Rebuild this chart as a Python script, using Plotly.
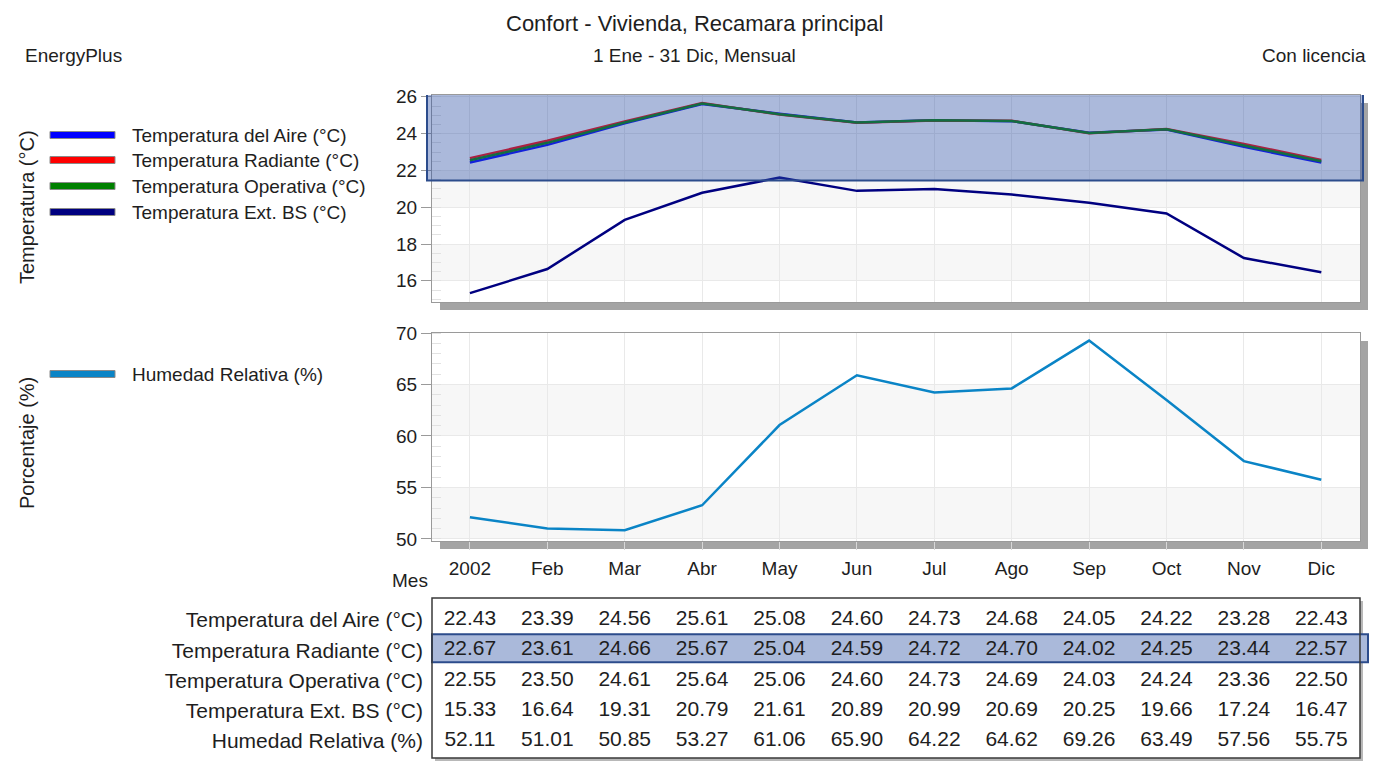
import plotly.graph_objects as go

W, H = 1373, 762

months = ["2002", "Feb", "Mar", "Abr", "May", "Jun", "Jul", "Ago", "Sep", "Oct", "Nov", "Dic"]

series_names = [
    "Temperatura del Aire (°C)",
    "Temperatura Radiante (°C)",
    "Temperatura Operativa (°C)",
    "Temperatura Ext. BS (°C)",
    "Humedad Relativa (%)",
]

temp_aire = [22.43, 23.39, 24.56, 25.61, 25.08, 24.60, 24.73, 24.68, 24.05, 24.22, 23.28, 22.43]
temp_radiante = [22.67, 23.61, 24.66, 25.67, 25.04, 24.59, 24.72, 24.70, 24.02, 24.25, 23.44, 22.57]
temp_operativa = [22.55, 23.50, 24.61, 25.64, 25.06, 24.60, 24.73, 24.69, 24.03, 24.24, 23.36, 22.50]
temp_ext_bs = [15.33, 16.64, 19.31, 20.79, 21.61, 20.89, 20.99, 20.69, 20.25, 19.66, 17.24, 16.47]
humedad_rel = [52.11, 51.01, 50.85, 53.27, 61.06, 65.90, 64.22, 64.62, 69.26, 63.49, 57.56, 55.75]

series_values = [temp_aire, temp_radiante, temp_operativa, temp_ext_bs, humedad_rel]
series_colors = ["#0000ff", "#ff0000", "#008000", "#000080", "#0a84c6"]

FONT = "Liberation Sans, Arial, sans-serif"
TXT = "#1e1e1e"


def px(x):
    return x / W


def py(y):
    return 1 - y / H


fig = go.Figure()

# temperature lines (top panel)
for i in range(4):
    fig.add_trace(go.Scatter(
        x=months, y=series_values[i], mode="lines", name=series_names[i],
        line=dict(color=series_colors[i], width=2.5), xaxis="x", yaxis="y",
        showlegend=False,
    ))

# relative humidity (bottom panel)
fig.add_trace(go.Scatter(
    x=months, y=humedad_rel, mode="lines", name=series_names[4],
    line=dict(color=series_colors[4], width=2.5), xaxis="x2", yaxis="y2",
    showlegend=False,
))

# data table below the panels
for i, vals in enumerate(series_values):
    fig.add_trace(go.Scatter(
        x=months, y=[series_names[i]] * len(months), mode="text",
        text=[f"{v:.2f}" for v in vals],
        textfont=dict(family=FONT, size=21, color=TXT),
        xaxis="x3", yaxis="y3", showlegend=False, hoverinfo="skip",
    ))

x_dom = [px(432), px(1360)]
x_range = [-0.49, 11.5]

grid = "#e9e9e9"
axline = "#9a9a9a"

xcommon = dict(
    type="category", categoryorder="array", categoryarray=months,
    range=x_range, domain=x_dom, showgrid=True, gridcolor=grid, gridwidth=1,
    showline=True, linecolor=axline, linewidth=1, mirror=True,
    zeroline=False, automargin=False,
    tickfont=dict(family=FONT, size=19, color=TXT),
)

shapes = []
annotations = []

# alternating background bands
for y0, y1, yr in [(16, 18, "y"), (20, 22, "y"), (50, 55, "y2"), (60, 65, "y2")]:
    shapes.append(dict(type="rect", xref=("x domain" if yr == "y" else "x2 domain"),
                       yref=yr, x0=0, x1=1, y0=y0, y1=y1, layer="below",
                       fillcolor="#f7f7f7", line=dict(width=0)))

# drop shadows of panels and table
shadow = "#a4a4a4"
for (top, bot) in [(95, 302), (333, 541)]:
    shapes.append(dict(type="rect", xref="paper", yref="paper",
                       x0=px(440), x1=px(1368), y0=py(bot + 8), y1=py(bot),
                       fillcolor=shadow, line=dict(width=0), layer="below"))
    shapes.append(dict(type="rect", xref="paper", yref="paper",
                       x0=px(1360), x1=px(1368), y0=py(bot + 8), y1=py(top + 8),
                       fillcolor=shadow, line=dict(width=0), layer="below"))
shapes.append(dict(type="rect", xref="paper", yref="paper",
                   x0=px(435), x1=px(1363), y0=py(761), y1=py(758),
                   fillcolor="#b8b8b8", line=dict(width=0), layer="below"))
shapes.append(dict(type="rect", xref="paper", yref="paper",
                   x0=px(1360), x1=px(1363), y0=py(761), y1=py(601),
                   fillcolor="#b8b8b8", line=dict(width=0), layer="below"))

# selection band over the comfort range
shapes.append(dict(type="rect", xref="paper", yref="y",
                   x0=px(427), x1=px(1363), y0=21.45, y1=26.15, layer="above",
                   fillcolor="rgba(45,80,165,0.40)",
                   line=dict(color="#2c4c8c", width=2)))

# table frame
shapes.append(dict(type="rect", xref="paper", yref="paper",
                   x0=px(432), x1=px(1360), y0=py(758), y1=py(598),
                   fillcolor="rgba(0,0,0,0)", line=dict(color="#3a3a3a", width=1.5)))

# highlighted table row
shapes.append(dict(type="rect", xref="paper", yref="y3",
                   x0=px(432), x1=px(1368), y0=0.47, y1=1.40, layer="below",
                   fillcolor="#aab9da", line=dict(color="#2c4c8c", width=2)))

# legend swatches and labels
legend_rows = [(0, 135), (1, 160), (2, 186), (3, 212), (4, 374)]
for i, yy in legend_rows:
    shapes.append(dict(type="rect", xref="paper", yref="paper",
                       x0=px(50), x1=px(115), y0=py(yy + 3.5), y1=py(yy - 3.5),
                       fillcolor=series_colors[i], line=dict(color="#8a8a8a", width=1)))
    annotations.append(dict(text=series_names[i], xref="paper", yref="paper",
                            x=px(130), y=py(yy), xanchor="left", yanchor="middle",
                            showarrow=False, font=dict(family=FONT, size=19, color=TXT)))

# titles and header texts
annotations += [
    dict(text="Confort - Vivienda, Recamara principal", x=px(694), y=py(24),
         font=dict(family=FONT, size=22, color=TXT)),
    dict(text="1 Ene - 31 Dic, Mensual", x=px(694), y=py(56),
         font=dict(family=FONT, size=19, color=TXT)),
    dict(text="EnergyPlus", x=px(23), y=py(56), xanchor="left",
         font=dict(family=FONT, size=19, color=TXT)),
    dict(text="Con licencia", x=px(1368), y=py(56), xanchor="right",
         font=dict(family=FONT, size=19, color=TXT)),
    dict(text="Temperatura (°C)", x=px(27), y=py(207), textangle=-90,
         font=dict(family=FONT, size=20, color=TXT)),
    dict(text="Porcentaje (%)", x=px(27), y=py(443), textangle=-90,
         font=dict(family=FONT, size=20, color=TXT)),
    dict(text="Mes", x=px(410), y=py(580),
         font=dict(family=FONT, size=19, color=TXT)),
]
for a in annotations:
    a.setdefault("xref", "paper")
    a.setdefault("yref", "paper")
    a.setdefault("showarrow", False)
    a.setdefault("xanchor", "center")
    a.setdefault("yanchor", "middle")

ycommon = dict(
    showgrid=True, gridcolor=grid, gridwidth=1, zeroline=False,
    showline=True, linecolor=axline, linewidth=1, mirror=True,
    ticks="outside", ticklen=10, tickcolor=axline, automargin=False,
    tickfont=dict(family=FONT, size=19, color=TXT),
)

fig.update_layout(
    width=W, height=H,
    margin=dict(l=0, r=0, t=0, b=0),
    paper_bgcolor="white", plot_bgcolor="white",
    showlegend=False,
    xaxis=dict(xcommon, anchor="y", showticklabels=False, ticks=""),
    yaxis=dict(ycommon, domain=[py(302), py(95)], range=[14.85, 26.1],
               tickvals=[16, 18, 20, 22, 24, 26], anchor="x",
               minor=dict(ticks="inside", dtick=0.5, ticklen=9,
                          tickcolor="#e2e2e2", showgrid=False)),
    xaxis2=dict(xcommon, anchor="y2", ticks="outside", ticklen=8,
                tickcolor="#d8d8d8", ticklabelstandoff=2),
    yaxis2=dict(ycommon, domain=[py(541), py(333)], range=[49.8, 70],
                tickvals=[50, 55, 60, 65, 70], anchor="x2",
                minor=dict(ticks="inside", dtick=1, ticklen=9,
                           tickcolor="#e2e2e2", showgrid=False)),
    xaxis3=dict(type="category", categoryorder="array", categoryarray=months,
                range=x_range, domain=x_dom, anchor="y3", visible=False,
                automargin=False),
    yaxis3=dict(type="category", categoryorder="array", categoryarray=series_names,
                range=[4.564, -0.726], domain=[py(758), py(598)], anchor="x3",
                showgrid=False, zeroline=False, showline=False, ticks="",
                ticklabelstandoff=8, automargin=False,
                tickfont=dict(family=FONT, size=21, color=TXT)),
    shapes=shapes,
    annotations=annotations,
)

fig.write_html("out.html")
